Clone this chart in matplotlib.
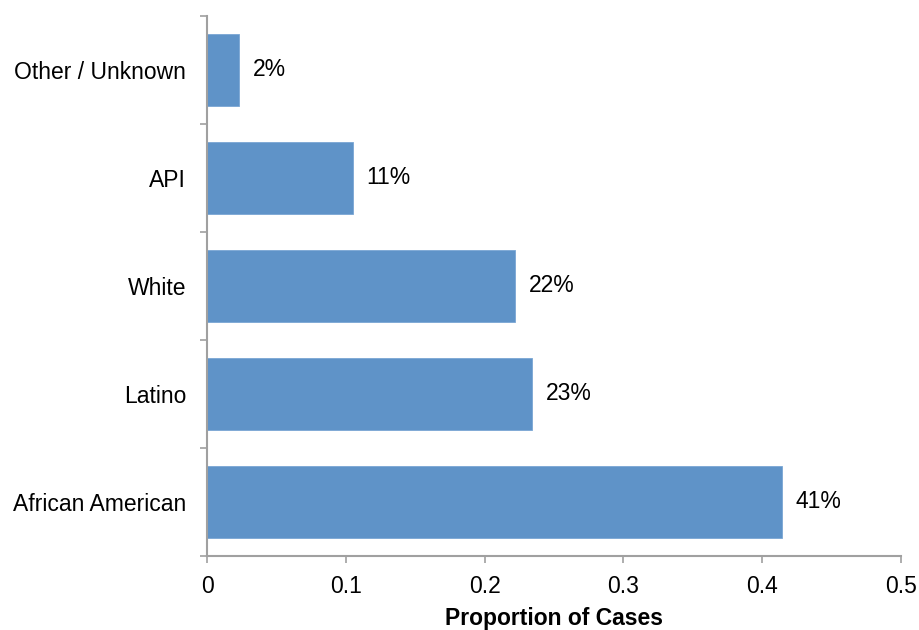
import matplotlib
matplotlib.use("Agg")
import matplotlib.pyplot as plt

categories = ["African American", "Latino", "White", "API", "Other / Unknown"]
values = [0.414, 0.234, 0.222, 0.105, 0.023]
labels = ["41%", "23%", "22%", "11%", "2%"]
xticks = [0, 0.1, 0.2, 0.3, 0.4, 0.5]
xticklabels = ["0", "0.1", "0.2", "0.3", "0.4", "0.5"]

plt.rcParams['font.family'] = ['Liberation Sans', 'DejaVu Sans']
W, H = 919, 630
FS = 16.5
fig = plt.figure(figsize=(W/100, H/100), dpi=100)
ax = fig.add_axes([207/W, 1-556/H, (901-207)/W, (556-16)/H])

ypos = list(range(len(categories)))
ax.barh(ypos, values, height=0.675, color='#5F93C8', edgecolor='#7aa6d4', linewidth=0.6)
for y, v, lab in zip(ypos, values, labels):
    ax.text(v + 0.01, y, lab, va='center', ha='left', fontsize=FS, color='black')

ax.set_xlim(0, 0.5)
ax.set_ylim(-0.5, len(categories) - 0.5)
ax.set_xticks(xticks)
ax.set_xticklabels(xticklabels, fontsize=FS)
ax.set_yticks(ypos)
ax.set_yticklabels(categories, fontsize=FS)
ax.set_yticks([i - 0.5 for i in range(len(categories) + 1)], minor=True)
ax.tick_params(axis='y', which='major', length=0, pad=15)
ax.tick_params(axis='y', which='minor', length=5, width=1.2, color='#a0a0a0')
ax.tick_params(axis='x', which='major', length=5, width=1.2, color='#a0a0a0', pad=9)
for s in ['top', 'right']:
    ax.spines[s].set_visible(False)
for s in ['left', 'bottom']:
    ax.spines[s].set_color('#a0a0a0')
    ax.spines[s].set_linewidth(1.5)
ax.set_xlabel("Proportion of Cases", fontsize=FS, fontweight='bold', labelpad=6)

fig.savefig("out.png", dpi=100)
